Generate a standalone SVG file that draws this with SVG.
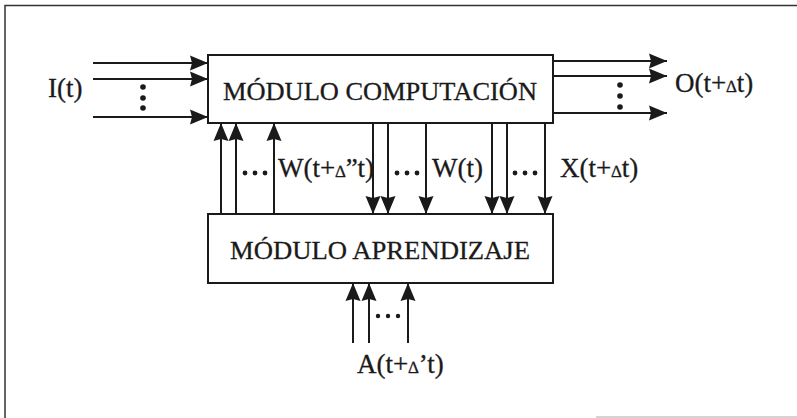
<svg xmlns="http://www.w3.org/2000/svg" width="797" height="418" viewBox="0 0 797 418">
<style>
.ln{stroke:#1a1a1a;stroke-width:2;fill:none}
.box{stroke:#1a1a1a;stroke-width:2;fill:#fff}
.t{font-family:"Liberation Serif","Times New Roman",serif;fill:#1a1a1a;stroke:#1a1a1a;stroke-width:0.3}
.big{font-size:26px}
.lbl{font-size:27px}
.d{font-size:17px}
.dot{fill:#1a1a1a}
</style>
<defs>
<marker id="ah" markerUnits="userSpaceOnUse" markerWidth="19" markerHeight="16" refX="18" refY="8" orient="auto" viewBox="0 0 19 16">
<path d="M0,0.5 L18,8 L0,15.5 L2,8 Z" fill="#1a1a1a"/>
</marker>
</defs>
<rect width="797" height="418" fill="#fff"/>
<g id="frame">
<path d="M5,418 L5,5.5 L797,5.5" stroke="#333" stroke-width="1.5" fill="none"/>
<line x1="596" y1="417" x2="797" y2="417" stroke="#aaa" stroke-width="1"/>
</g>
<g id="computacion">
<rect class="box" x="208" y="55" width="345" height="68"/>
<text class="t big" x="380" y="100" text-anchor="middle" textLength="314" lengthAdjust="spacingAndGlyphs">MÓDULO COMPUTACIÓN</text>
</g>
<g id="aprendizaje">
<rect class="box" x="208" y="214" width="345" height="69"/>
<text class="t big" x="380" y="259" text-anchor="middle" textLength="300" lengthAdjust="spacingAndGlyphs">MÓDULO APRENDIZAJE</text>
</g>
<g id="connectors">
<line class="ln" x1="93" y1="63" x2="208" y2="63" marker-end="url(#ah)"/>
<line class="ln" x1="93" y1="79" x2="208" y2="79" marker-end="url(#ah)"/>
<line class="ln" x1="93" y1="117" x2="208" y2="117" marker-end="url(#ah)"/>
<line class="ln" x1="553" y1="61" x2="667" y2="61" marker-end="url(#ah)"/>
<line class="ln" x1="553" y1="76" x2="667" y2="76" marker-end="url(#ah)"/>
<line class="ln" x1="553" y1="113" x2="667" y2="113" marker-end="url(#ah)"/>
<line class="ln" x1="221" y1="214" x2="221" y2="123" marker-end="url(#ah)"/>
<line class="ln" x1="236" y1="214" x2="236" y2="123" marker-end="url(#ah)"/>
<line class="ln" x1="274" y1="214" x2="274" y2="123" marker-end="url(#ah)"/>
<line class="ln" x1="373" y1="123" x2="373" y2="214" marker-end="url(#ah)"/>
<line class="ln" x1="388" y1="123" x2="388" y2="214" marker-end="url(#ah)"/>
<line class="ln" x1="426" y1="123" x2="426" y2="214" marker-end="url(#ah)"/>
<line class="ln" x1="492" y1="123" x2="492" y2="214" marker-end="url(#ah)"/>
<line class="ln" x1="507" y1="123" x2="507" y2="214" marker-end="url(#ah)"/>
<line class="ln" x1="545" y1="123" x2="545" y2="214" marker-end="url(#ah)"/>
<line class="ln" x1="353" y1="343" x2="353" y2="283" marker-end="url(#ah)"/>
<line class="ln" x1="369" y1="343" x2="369" y2="283" marker-end="url(#ah)"/>
<line class="ln" x1="408" y1="343" x2="408" y2="283" marker-end="url(#ah)"/>
</g>
<g id="dots">
<circle class="dot" cx="143" cy="87" r="2.8"/>
<circle class="dot" cx="143" cy="98" r="2.8"/>
<circle class="dot" cx="143" cy="108" r="2.8"/>
<circle class="dot" cx="620" cy="85" r="2.8"/>
<circle class="dot" cx="620" cy="96" r="2.8"/>
<circle class="dot" cx="620" cy="107" r="2.8"/>
<circle class="dot" cx="245" cy="173" r="2.4"/>
<circle class="dot" cx="255" cy="173" r="2.4"/>
<circle class="dot" cx="265" cy="173" r="2.4"/>
<circle class="dot" cx="397" cy="173" r="2.4"/>
<circle class="dot" cx="407" cy="173" r="2.4"/>
<circle class="dot" cx="417" cy="173" r="2.4"/>
<circle class="dot" cx="515" cy="173" r="2.4"/>
<circle class="dot" cx="525" cy="173" r="2.4"/>
<circle class="dot" cx="535" cy="173" r="2.4"/>
<circle class="dot" cx="378" cy="316" r="2.2"/>
<circle class="dot" cx="388" cy="316" r="2.2"/>
<circle class="dot" cx="398" cy="316" r="2.2"/>
</g>
<g id="labels">
<text class="t lbl" x="48" y="97">I(t)</text>
<text class="t lbl" x="675" y="92">O(t+<tspan class="d">∆</tspan>t)</text>
<text class="t lbl" x="278" y="177">W(t+<tspan class="d">∆</tspan>”t)</text>
<text class="t lbl" x="432" y="177">W(t)</text>
<text class="t lbl" x="560" y="177">X(t+<tspan class="d">∆</tspan>t)</text>
<text class="t lbl" x="357" y="373">A(t+<tspan class="d">∆</tspan>’t)</text>
</g>
</svg>
